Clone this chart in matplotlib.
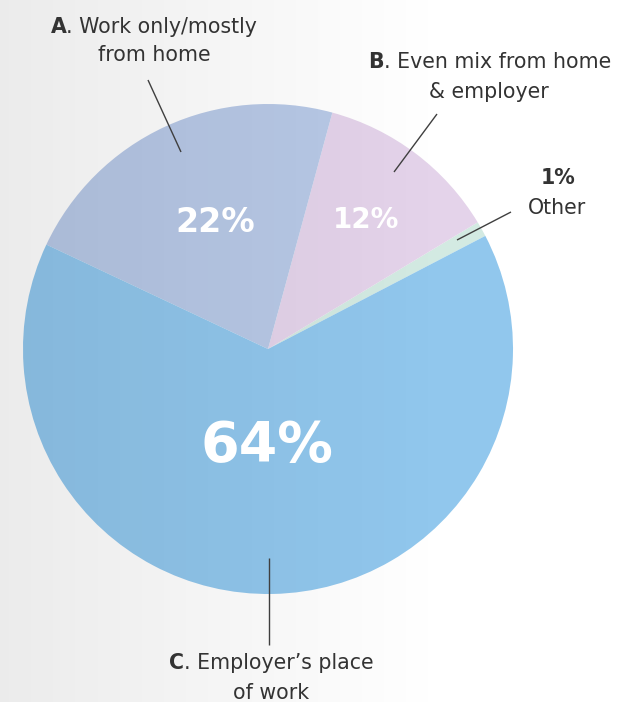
import numpy as np
import matplotlib.pyplot as plt

# share of workers by place of work (percent), drawn counter-clockwise
categories = ['Other', 'B', 'A', 'C']
values = [1, 12, 22, 64]
colors = ['#d3eae2', '#e4d3ea', '#b8c9e7', '#91c7ed']

W, H = 618, 702
plt.rcParams['font.family'] = ['DejaVu Sans']

fig = plt.figure(figsize=(W / 100, H / 100), dpi=100)
ax = fig.add_axes([0, 0, 1, 1])
ax.axis('off')

# axes works in pixels, y measured from the bottom
cx, cy, r = 268, H - 349, 245
wedges, _ = ax.pie(values, colors=colors, startangle=27.5, counterclock=True,
                   center=(cx, cy), radius=r, wedgeprops=dict(linewidth=0))

# soft grey shading coming in from the left edge
alpha = 0.08 * np.clip(1 - np.arange(W) / 450, 0, 1)
shade = np.zeros((1, W, 4))
shade[0, :, 3] = alpha
ax.imshow(shade, extent=(0, W, 0, H), aspect='auto', zorder=2, interpolation='bilinear')

ax.set_xlim(0, W)
ax.set_ylim(0, H)
ax.set_aspect('auto')

def px(y):
    return H - y

# percentages inside the slices
pct = dict(zip(categories, values))
ax.text(215, px(222), f"{pct['A']}%", color='white', fontsize=24, fontweight='bold',
        ha='center', va='center', zorder=4)
ax.text(366, px(220), f"{pct['B']}%", color='white', fontsize=20, fontweight='bold',
        ha='center', va='center', zorder=4)
ax.text(267, px(446), f"{pct['C']}%", color='white', fontsize=40, fontweight='bold',
        ha='center', va='center', zorder=4)

# leader lines
lc = '#3f3f3f'
for (x1, y1), (x2, y2) in [((148, 80), (181, 152)),
                           ((437, 114), (394, 172)),
                           ((511, 212), (457, 240)),
                           ((269, 558), (269, 645))]:
    ax.plot([x1, x2], [px(y1), px(y2)], color=lc, lw=1, zorder=4, solid_capstyle='butt')

tc = '#333333'
fs = 14.8
renderer = fig.canvas.get_renderer()

def two_part(x, y, bold, rest):
    t1 = ax.text(0, px(y), bold, fontsize=fs, fontweight='bold', color=tc,
                 ha='left', va='center', zorder=4)
    t2 = ax.text(0, px(y), rest, fontsize=fs, color=tc, ha='left', va='center', zorder=4)
    w1 = t1.get_window_extent(renderer).width
    w2 = t2.get_window_extent(renderer).width
    start = x - (w1 + w2) / 2
    t1.set_x(start)
    t2.set_x(start + w1)

def plain(x, y, s, weight='normal'):
    ax.text(x, px(y), s, fontsize=fs, fontweight=weight, color=tc,
            ha='center', va='center', zorder=4)

two_part(154, 27, 'A', '. Work only/mostly')
plain(154, 55, 'from home')
two_part(490, 62, 'B', '. Even mix from home')
plain(489, 92, '& employer')
plain(558, 178, f"{pct['Other']}%", weight='bold')
plain(557, 208, 'Other')
two_part(271, 663, 'C', '. Employer\u2019s place')
plain(271, 693, 'of work')

fig.savefig('out.png', dpi=100)
